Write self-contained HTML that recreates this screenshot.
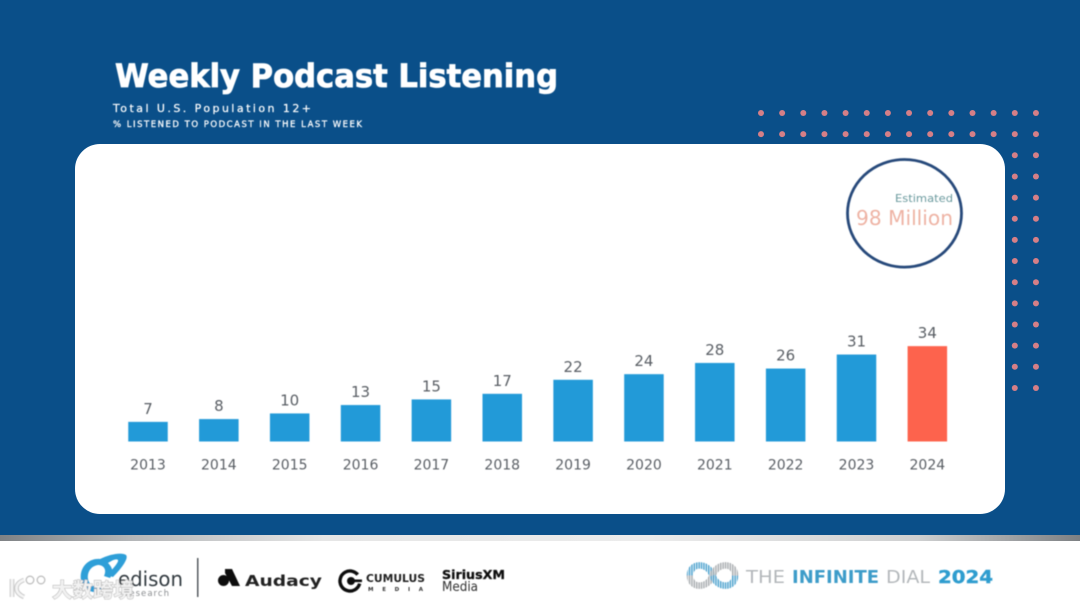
<!DOCTYPE html>
<html lang="en">
<head>
<meta charset="utf-8">
<title>Weekly Podcast Listening</title>
<style>
html,body{margin:0;padding:0;background:#fff;width:1080px;height:608px;overflow:hidden}
svg{display:block;font-family:"DejaVu Sans","Liberation Sans","Noto Sans CJK SC",sans-serif}
</style>
</head>
<body>
<svg id="slide" xmlns="http://www.w3.org/2000/svg" width="1080" height="608" viewBox="0 0 1080 608">
  <defs>
    <linearGradient id="strip" x1="0" x2="1" y1="0" y2="0">
      <stop offset="0" stop-color="#7f8285"/>
      <stop offset="0.12" stop-color="#b4b6b8"/>
      <stop offset="0.3" stop-color="#e6e6e6"/>
      <stop offset="0.6" stop-color="#ececec"/>
      <stop offset="0.85" stop-color="#cfd0d1"/>
      <stop offset="1" stop-color="#7d8083"/>
    </linearGradient>
    <pattern id="stripeBlue" width="2.4" height="4" patternUnits="userSpaceOnUse">
      <rect width="1.5" height="4" fill="#4fa3cf"/>
    </pattern>
    <pattern id="stripeGray" width="2.4" height="4" patternUnits="userSpaceOnUse">
      <rect width="1.5" height="4" fill="#a9adb0"/>
    </pattern>
    <filter id="soft" x="-5%" y="-5%" width="110%" height="110%"><feGaussianBlur stdDeviation="0.4"/></filter>
  </defs>

  <rect x="0" y="0" width="1080" height="535" fill="#0a4f89"/>
  <rect x="0" y="541" width="1080" height="67" fill="#ffffff"/>
  <rect x="0" y="535" width="1080" height="6" fill="url(#strip)"/>

  <g id="dots"></g>

  <rect x="75" y="144" width="930" height="370" rx="25" ry="25" fill="#ffffff"/>

  <g filter="url(#soft)">
    <text x="115" y="87" font-size="32" font-weight="700" fill="#ffffff" stroke="#ffffff" stroke-width="0.8" textLength="443" lengthAdjust="spacingAndGlyphs">Weekly Podcast Listening</text>
    <text x="113" y="112" font-size="11" font-weight="400" fill="#ffffff" stroke="#ffffff" stroke-width="0.2" textLength="198" lengthAdjust="spacing">Total U.S. Population 12+</text>
    <text x="113" y="127" font-size="8.5" font-weight="400" fill="#ffffff" stroke="#ffffff" stroke-width="0.25" textLength="249" lengthAdjust="spacing">% LISTENED TO PODCAST IN THE LAST WEEK</text>

    <g id="chart"></g>

    <ellipse cx="904.5" cy="213.3" rx="57" ry="53.8" fill="none" stroke="#28497a" stroke-width="2.8"/>
    <text x="953" y="202" font-size="11" text-anchor="end" fill="#6b9a9e" textLength="58" lengthAdjust="spacingAndGlyphs">Estimated</text>
    <text x="953" y="225" font-size="20" text-anchor="end" fill="#eeb3a4" textLength="97" lengthAdjust="spacingAndGlyphs">98 Million</text>

    <g>
      <path d="M104 591 C92 595 83 589 81 580 C79 568 88 558 100 559 C110 554 122 552 126 555 C129 558 122 568 113 577 L107 575 C113 569 119 562 118 560 C116 558 111 561 108 563 C114 569 113 574 110 578 L104 576 C107 570 104 565 98 565 C91 566 87 572 88 579 C89 585 95 588 101 586 Z" fill="#2d9fd8"/>
      <text x="118" y="586" font-size="20" fill="#333a40" textLength="65" lengthAdjust="spacingAndGlyphs">edison</text>
      <text x="125" y="596" font-size="8.5" fill="#8a8d90" textLength="44" lengthAdjust="spacing">research</text>
    </g>
    <rect x="197" y="558" width="1.5" height="39" fill="#555a5f"/>

    <g>
      <path d="M225 569 L232 569 L240 586 L232 586 L225 573 Z" fill="#111"/>
      <circle cx="223.5" cy="580.5" r="5.5" fill="#111"/>
      <text x="245" y="586" font-size="15" font-weight="700" fill="#222" textLength="77" lengthAdjust="spacingAndGlyphs">Audacy</text>
    </g>

    <g>
      <circle cx="350" cy="581" r="10" fill="none" stroke="#111" stroke-width="3.4" stroke-dasharray="53 10" transform="rotate(15 350 581)"/>
      <circle cx="351" cy="581" r="4" fill="#111"/>
      <rect x="353" y="579.5" width="9" height="2.6" fill="#111"/>
      <text x="366" y="582" font-size="11" font-weight="700" fill="#222" textLength="59" lengthAdjust="spacingAndGlyphs">CUMULUS</text>
      <text x="368" y="591" font-size="5.5" font-weight="700" fill="#333" textLength="55" lengthAdjust="spacing">MEDIA</text>
    </g>

    <g>
      <text x="442" y="579" font-size="12.5" font-weight="700" fill="#111" stroke="#111" stroke-width="0.3" textLength="63" lengthAdjust="spacingAndGlyphs">SiriusXM</text>
      <text x="442" y="591" font-size="13" fill="#333" textLength="36" lengthAdjust="spacingAndGlyphs">Media</text>
    </g>

    <g>
      <g fill="none" stroke-width="6.5">
        <path d="M690 575.5 C690 562 708 562 712.5 575.5" stroke="url(#stripeBlue)"/>
        <path d="M690 575.5 C690 589 708 589 712.5 575.5" stroke="url(#stripeGray)"/>
        <path d="M712.5 575.5 C717 562 735 562 735 575.5" stroke="url(#stripeGray)"/>
        <path d="M712.5 575.5 C717 589 735 589 735 575.5" stroke="url(#stripeBlue)"/>
      </g>
      <text x="746" y="583" font-size="18" fill="#b4b8bb" textLength="39" lengthAdjust="spacingAndGlyphs">THE</text>
      <text x="792" y="583" font-size="18" font-weight="700" fill="#3d9cc9" textLength="87" lengthAdjust="spacingAndGlyphs">INFINITE</text>
      <text x="886" y="583" font-size="18" fill="#b4b8bb" textLength="44" lengthAdjust="spacingAndGlyphs">DIAL</text>
      <text x="938" y="583" font-size="18" font-weight="700" fill="#2f9dcf" stroke="#2f9dcf" stroke-width="0.4" textLength="55" lengthAdjust="spacingAndGlyphs">2024</text>
    </g>

    <g>
      <path d="M12 579 L12 597 M24 580 C15 583 13 592 24 597" fill="none" stroke="#c9c9c9" stroke-width="4.6"/>
      <path d="M12 579 L12 597 M24 580 C15 583 13 592 24 597" fill="none" stroke="#f4f4f4" stroke-width="2.6"/>
      <circle cx="30" cy="580" r="3.8" fill="#fff" stroke="#bdbdbd" stroke-width="1.3"/>
      <circle cx="41" cy="580" r="3.8" fill="#fff" stroke="#bdbdbd" stroke-width="1.3"/>
      <text x="52" y="597" font-size="20" fill="#f2f2f2" stroke="#a9a9a9" stroke-width="0.9" paint-order="stroke" font-family="'Noto Sans CJK SC',sans-serif" font-weight="700" textLength="82" lengthAdjust="spacingAndGlyphs">大数跨境</text>
    </g>
  </g>
</svg>

<script>
const years = ['2013','2014','2015','2016','2017','2018','2019','2020','2021','2022','2023','2024'];
const listeningPct = [7,8,10,13,15,17,22,24,28,26,31,34];
const highlightYear = '2024';

const NS = 'http://www.w3.org/2000/svg';
const chart = document.getElementById('chart');
const baseY = 441.5;
const xCenter = i => 148 + i * 70.85;
const yScale = v => baseY - v * 2.805;
const barWidth = 39.5;

function makeText(str, x, y, size) {
  const t = document.createElementNS(NS, 'text');
  t.setAttribute('x', x);
  t.setAttribute('y', y);
  t.setAttribute('font-size', size);
  t.setAttribute('text-anchor', 'middle');
  t.setAttribute('fill', '#5a5f65');
  t.textContent = str;
  return t;
}

years.forEach((year, i) => {
  const v = listeningPct[i];
  const top = yScale(v);
  const bar = document.createElementNS(NS, 'rect');
  
  
  bar.setAttribute('x', xCenter(i) - barWidth / 2);
  bar.setAttribute('y', top);
  bar.setAttribute('width', barWidth);
  bar.setAttribute('height', baseY - top);
  bar.setAttribute('fill', year === highlightYear ? '#fd634e' : '#229ad8');
  chart.appendChild(bar);

  const val = makeText(String(v), xCenter(i), top - 8, 15);
  
  
  chart.appendChild(val);

  const lab = makeText(year, xCenter(i), 469.5, 14);
  
  
  chart.appendChild(lab);
});

const dots = document.getElementById('dots');
for (let r = 0; r < 14; r++) {
  for (let c = 0; c < 14; c++) {
    if (r > 1 && c < 12) continue;
    const d = document.createElementNS(NS, 'circle');
    
    
    d.setAttribute('cx', 761 + c * 21.15);
    d.setAttribute('cy', 113 + r * 21.15);
    d.setAttribute('r', 3);
    d.setAttribute('fill', '#d57f87');
    dots.appendChild(d);
  }
}
</script>
</body>
</html>
